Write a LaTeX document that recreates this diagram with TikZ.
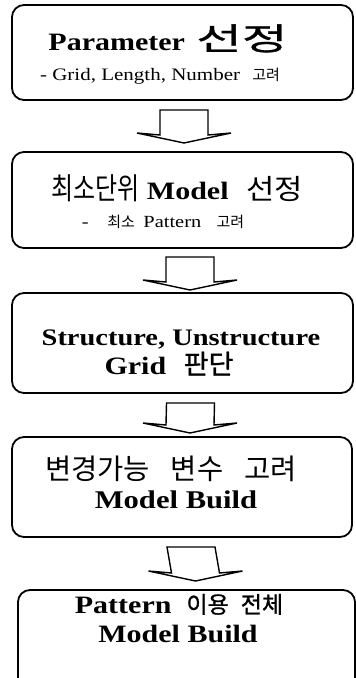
\documentclass[tikz,border=0pt]{standalone}
\usepackage{fontspec}
\setmainfont{Liberation Serif}[FakeStretch=1.2]
\newfontfamily\kr{Noto Sans CJK KR}
\newfontfamily\krn{Noto Sans CJK KR}[FakeStretch=0.8]
\newfontfamily\krs{Noto Sans CJK KR}[FakeStretch=1.1]
\newfontfamily\krb{Noto Sans CJK KR}[FakeBold=1]
\newfontfamily\krw{Noto Sans CJK KR}[FakeStretch=1.6,FakeBold=1]
\usetikzlibrary{calc}

% font shortcuts: bold serif heading, regular serif subtitle
\newcommand\hd[1]{\fontsize{#1}{30}\selectfont\bfseries}
\newcommand\sd[1]{\fontsize{#1}{20}\selectfont\mdseries}
% Korean text at a given size with a given family
\newcommand\ko[3]{{#1\fontsize{#2}{30}\selectfont\mdseries #3}}

\tikzset{
  stepbox/.style={draw, line width=1.8pt, rounded corners=12pt,
    inner sep=0pt, outer sep=0pt},
  blockarrow/.style={draw, line width=1.4pt, line join=miter},
  label/.style={anchor=base, inner sep=0pt, outer sep=0pt}
}

% block arrow between two boxes:
% #1 upper box, #2 lower box, #3 x shift, #4 gap below upper, #5 gap above lower
\newcommand\flowarrow[5]{%
  \draw[blockarrow]
    ($(#1.south)+(#3-24,#4)$) --
    ($(#2.north)+(#3-24,-#5-8)$) --
    ($(#2.north)+(#3-47,-#5-10)$) --
    ($(#2.north)+(#3,-#5)$) --
    ($(#2.north)+(#3+47,-#5-10)$) --
    ($(#2.north)+(#3+24,-#5-8)$) --
    ($(#1.south)+(#3+24,#4)$) -- cycle;
}

\begin{document}
\begin{tikzpicture}[x=1pt,y=-1pt]
  \useasboundingbox (0,0) rectangle (356,678);
  \clip (0,0) rectangle (356,678);

  % boxes
  \node[stepbox, minimum width=341pt, minimum height=95pt]  (b1) at (182.5,52.5) {};
  \node[stepbox, minimum width=341pt, minimum height=96pt]  (b2) at (182.5,200) {};
  \node[stepbox, minimum width=341pt, minimum height=100pt] (b3) at (182.5,343) {};
  \node[stepbox, minimum width=340pt, minimum height=100pt] (b4) at (182,487) {};
  \node[stepbox, minimum width=337pt, minimum height=130pt] (b5) at (186.5,655) {};

  % texts
  \node[label] (t1a) at (168,50)  {\hd{25}Parameter\hspace{0.45em}\ko\krw{31}{선정}};
  \node[label] (t1b) at (160,80)  {\sd{17.5}- Grid, Length, Number\hspace{0.7em}\ko\kr{15}{고려}};
  \node[label] (t2a) at (177,199) {\ko\krn{30}{최소단위}\hspace{0.75em}\hd{25}Model\hspace{0.7em}\ko\krs{28}{선정}};
  \node[label] (t2b) at (163,227) {\sd{17}-\hspace{1.1em}\ko\kr{15}{최소}\hspace{0.5em}Pattern\hspace{0.9em}\ko\kr{15}{고려}};
  \node[label] (t3a) at (181,345) {\hd{23.7}Structure, Unstructure};
  \node[label] (t3b) at (169,374) {\hd{25}Grid\hspace{0.7em}\ko\krb{27}{판단}};
  \node[label] (t4a) at (171,479) {\ko\kr{28.5}{변경가능\hspace{21pt}변수\hspace{21pt}고려}};
  \node[label] (t4b) at (176,508) {\hd{25.5}Model Build};
  \node[label] (t5a) at (179,613) {\hd{25}Pattern\hspace{0.6em}\ko\krb{23}{이용\hspace{12pt}전체}};
  \node[label] (t5b) at (178,642) {\hd{25}Model Build};

  % arrows
  \flowarrow{b1}{b2}{1.5}{10}{9}
  \flowarrow{b2}{b3}{7.5}{9}{3}
  \flowarrow{b3}{b4}{8}{10}{4}
  \flowarrow{b4}{b5}{9}{10}{9}
\end{tikzpicture}
\end{document}
